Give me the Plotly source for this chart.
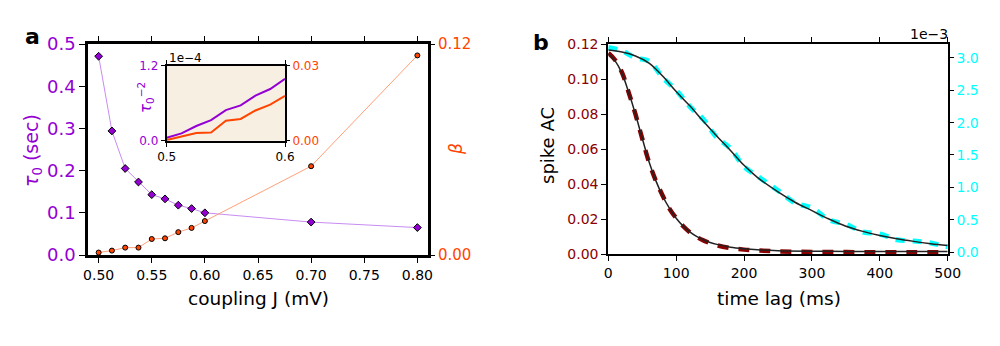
import plotly.graph_objects as go

# ---------------- data: panel a ----------------
coupling_J = [0.5, 0.5125, 0.525, 0.5375, 0.55, 0.5625, 0.575, 0.5875, 0.6, 0.7, 0.8]
tau0_sec = [0.471, 0.294, 0.205, 0.173, 0.143, 0.133, 0.118, 0.110, 0.100, 0.078, 0.065]
beta_vals = [0.0014, 0.0025, 0.0042, 0.0042, 0.0091, 0.0095, 0.0130, 0.0154, 0.0193, 0.0505, 0.1135]

# inset (J from 0.5 to 0.6)
inset_J = [0.5, 0.5125, 0.525, 0.5375, 0.55, 0.5625, 0.575, 0.5875, 0.6]
inset_tau_inv2_e4 = [0.048, 0.117, 0.235, 0.330, 0.490, 0.565, 0.720, 0.827, 0.990]
inset_beta = [0.0003, 0.0016, 0.0031, 0.0033, 0.0080, 0.0087, 0.0121, 0.0144, 0.0179]

# ---------------- data: panel b ----------------
t_fast = [0, 10, 20, 30, 40, 50, 60, 70, 80, 90, 100, 110, 120, 130, 140, 150, 160,
          180, 200, 220, 250, 300, 350, 400, 450, 500]
ac_fast = [0.1150, 0.1110, 0.1040, 0.0925, 0.0800, 0.0660, 0.0525, 0.0420, 0.0335, 0.0260,
           0.0205, 0.0160, 0.0125, 0.0098, 0.0078, 0.0063, 0.0050, 0.0034, 0.0025, 0.0020,
           0.0015, 0.0012, 0.0011, 0.0010, 0.0010, 0.0009]
fit_fast = [0.1145, 0.1105, 0.1035, 0.0925, 0.0800, 0.0662, 0.0528, 0.0420, 0.0332, 0.0262,
            0.0205, 0.0161, 0.0127, 0.0101, 0.0081, 0.0066, 0.0055, 0.0039, 0.0030, 0.0024,
            0.0019, 0.0016, 0.0015, 0.0015, 0.0015, 0.0015]

t_slow = [0, 20, 40, 60, 80, 100, 120, 140, 160, 180, 200, 220, 250, 275, 300, 325, 350,
          375, 400, 425, 450, 475, 500]
ac_slow_e3 = [3.16, 3.11, 3.00, 2.95, 2.70, 2.50, 2.25, 2.05, 1.77, 1.60, 1.32, 1.17, 0.95,
              0.76, 0.68, 0.50, 0.43, 0.31, 0.28, 0.19, 0.17, 0.14, 0.08]
fit_slow_e3 = [3.12, 3.09, 3.03, 2.92, 2.72, 2.48, 2.26, 2.02, 1.79, 1.57, 1.34, 1.15, 0.93,
               0.77, 0.64, 0.51, 0.40, 0.32, 0.255, 0.205, 0.165, 0.13, 0.10]

left_ticks_a = [0.0, 0.1, 0.2, 0.3, 0.4, 0.5]
x_ticks_a = [0.50, 0.55, 0.60, 0.65, 0.70, 0.75, 0.80]
left_ticks_b = [0.00, 0.02, 0.04, 0.06, 0.08, 0.10, 0.12]
right_ticks_b = [0.0, 0.5, 1.0, 1.5, 2.0, 2.5, 3.0]
x_ticks_b = [0, 100, 200, 300, 400, 500]

PURPLE = "#9400D3"
ORANGE = "#FF4500"
DARKRED = "#8B0000"
CYAN = "#00FFFF"
FONT = "DejaVu Sans"
W, H = 1000, 346


def px(x):
    return x / W


def py(y):
    return 1 - y / H


fig = go.Figure()

# panel a main
fig.add_trace(go.Scatter(x=coupling_J, y=tau0_sec, mode="lines+markers", xaxis="x", yaxis="y",
                         line=dict(color="#c88cf2", width=1),
                         marker=dict(symbol="diamond", size=6, color=PURPLE,
                                     line=dict(color="black", width=1)),
                         showlegend=False))
fig.add_trace(go.Scatter(x=coupling_J, y=beta_vals, mode="lines+markers", xaxis="x", yaxis="y2",
                         line=dict(color="#ffa07a", width=1),
                         marker=dict(symbol="circle", size=5, color=ORANGE,
                                     line=dict(color="black", width=1)),
                         showlegend=False))

# inset
fig.add_trace(go.Scatter(x=inset_J, y=inset_tau_inv2_e4, mode="lines", xaxis="x3", yaxis="y3",
                         line=dict(color=PURPLE, width=2), showlegend=False))
fig.add_trace(go.Scatter(x=inset_J, y=inset_beta, mode="lines", xaxis="x3", yaxis="y4",
                         line=dict(color=ORANGE, width=2), showlegend=False))

# panel b
fig.add_trace(go.Scatter(x=t_slow, y=ac_slow_e3, mode="lines", xaxis="x2", yaxis="y6",
                         line=dict(color=CYAN, width=5, dash="9px,8px", shape="spline"),
                         showlegend=False))
fig.add_trace(go.Scatter(x=t_fast, y=ac_fast, mode="lines", xaxis="x2", yaxis="y5",
                         line=dict(color=DARKRED, width=4.5, dash="11px,10px", shape="spline"),
                         showlegend=False))
fig.add_trace(go.Scatter(x=t_fast, y=fit_fast, mode="lines", xaxis="x2", yaxis="y5",
                         line=dict(color="#222222", width=1.5, shape="spline"), showlegend=False))
fig.add_trace(go.Scatter(x=t_slow, y=fit_slow_e3, mode="lines", xaxis="x2", yaxis="y6",
                         line=dict(color="#222222", width=1.5, shape="spline"), showlegend=False))

common = dict(showgrid=False, zeroline=False, ticks="outside", tickcolor="black",
              linecolor="black", showline=True, automargin=False)
common_r = dict(showgrid=False, zeroline=False, ticks="outside", tickcolor="black",
                showline=False, automargin=False)

fig.update_layout(
    width=W, height=H, margin=dict(l=0, r=0, t=0, b=0, autoexpand=False),
    paper_bgcolor="white", plot_bgcolor="rgba(0,0,0,0)", showlegend=False,
    font=dict(family=FONT, color="black"),
    xaxis=dict(domain=[px(88), px(428)], anchor="y", range=[0.49, 0.81],
               tickvals=x_ticks_a, ticktext=["%.2f" % v for v in x_ticks_a],
               tickfont=dict(size=14), ticklen=5, linewidth=2.5, mirror="ticks", **common),
    yaxis=dict(domain=[py(255), py(44)], anchor="x", range=[0, 0.5],
               tickvals=left_ticks_a, ticktext=["%.1f" % v for v in left_ticks_a],
               tickfont=dict(size=18, color=PURPLE), ticklen=6, linewidth=2.5, mirror=True,
               **common),
    yaxis2=dict(overlaying="y", side="right", anchor="x", range=[0, 0.12],
                tickvals=[0, 0.12], ticktext=["0.00", "0.12"],
                tickfont=dict(size=15, color=ORANGE), ticklen=6, **common_r),
    xaxis3=dict(domain=[px(166.7), px(285)], anchor="y3", range=[0.5, 0.6],
                tickvals=[0.5, 0.6], ticktext=["0.5", "0.6"], tickfont=dict(size=12),
                ticklen=4, linewidth=2, mirror="ticks", **common),
    yaxis3=dict(domain=[py(140.7), py(65.7)], anchor="x3", range=[0, 1.2],
                tickvals=[0, 1.2], ticktext=["0.0", "1.2"],
                tickfont=dict(size=12, color=PURPLE), ticklen=4, linewidth=2, mirror=True,
                **common),
    yaxis4=dict(overlaying="y3", side="right", anchor="x3", range=[0, 0.03],
                tickvals=[0, 0.03], ticktext=["0.00", "0.03"],
                tickfont=dict(size=12, color=ORANGE), ticklen=4, **common_r),
    xaxis2=dict(domain=[px(608.3), px(947.7)], anchor="y5", range=[0, 500],
                tickvals=x_ticks_b, tickfont=dict(size=14), ticklen=5, linewidth=2,
                mirror="ticks", **common),
    yaxis5=dict(domain=[py(254), py(44.3)], anchor="x2", range=[0, 0.12],
                tickvals=left_ticks_b, ticktext=["%.2f" % v for v in left_ticks_b],
                tickfont=dict(size=14, color=DARKRED), ticklen=5, linewidth=2, mirror=True,
                **common),
    yaxis6=dict(overlaying="y5", side="right", anchor="x2", range=[-0.03, 3.21],
                tickvals=right_ticks_b, ticktext=["%.1f" % v for v in right_ticks_b],
                tickfont=dict(size=14, color=CYAN), ticklen=5, **common_r),
    shapes=[dict(type="rect", xref="x3 domain", yref="y3 domain", x0=0, x1=1, y0=0, y1=1,
                 fillcolor="#f8efe3", line=dict(width=0), layer="below")],
)

ann = [
    dict(text="<b>a</b>", x=px(32), y=py(36), size=22, color="black", angle=0),
    dict(text="<b>b</b>", x=px(541), y=py(42), size=22, color="black", angle=0),
    dict(text="<i>τ</i><sub>0</sub> (sec)", x=px(32), y=py(151), size=19, color=PURPLE, angle=-90),
    dict(text="<i>β</i>", x=px(456), y=py(149), size=17, color=ORANGE, angle=-90),
    dict(text="coupling J (mV)", x=px(258), y=py(298), size=18.5, color="black", angle=0),
    dict(text="time lag (ms)", x=px(779), y=py(298), size=18.5, color="black", angle=0),
    dict(text="spike AC", x=px(547), y=py(146), size=18, color="black", angle=-90),
    dict(text="<i>τ</i><sub>0</sub><sup>−2</sup>", x=px(145), y=py(98), size=15, color=PURPLE, angle=-90),
]
for a in ann:
    fig.add_annotation(text=a["text"], x=a["x"], y=a["y"], xref="paper", yref="paper",
                       showarrow=False, textangle=a["angle"], xanchor="center", yanchor="middle",
                       font=dict(family=FONT, size=a["size"], color=a["color"]))

fig.add_annotation(text="1e−4", x=px(167), y=py(58), xref="paper", yref="paper", showarrow=False,
                   xanchor="left", yanchor="middle", font=dict(family=FONT, size=12, color="black"))
fig.add_annotation(text="1e−3", x=px(950), y=py(34), xref="paper", yref="paper", showarrow=False,
                   xanchor="right", yanchor="middle", font=dict(family=FONT, size=14, color="black"))

fig.write_html("out.html")
